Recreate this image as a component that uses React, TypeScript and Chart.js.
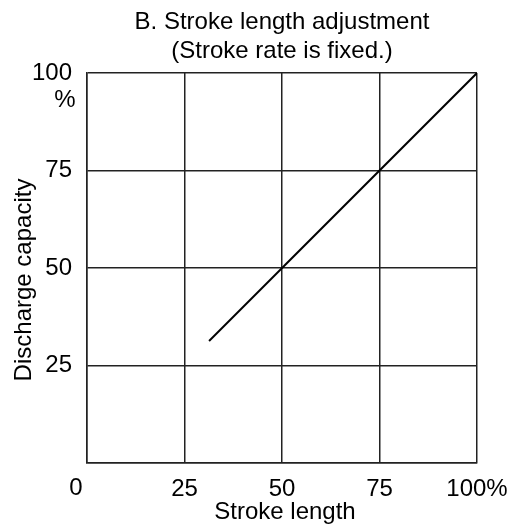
import React, { useEffect, useRef } from "react";
import { Chart, registerables } from "chart.js";

Chart.register(...registerables);

const titleLines = ["B. Stroke length adjustment", "(Stroke rate is fixed.)"];
const xAxisTitle = "Stroke length";
const yAxisTitle = "Discharge capacity";
const tickValues = [0, 25, 50, 75, 100];
const xTickLabels = ["", "25", "50", "75", "100%"];
const yTickLabels = ["", "25", "50", "75", "100"];
const originLabel = "0";
const yUnitLabel = "%";
const strokeLength = [31.3, 100];
const dischargeCapacity = [31.3, 100];

const FONT = '"Liberation Sans", Arial, sans-serif';
const FS = 24;

const textPlugin = {
  id: "extraText",
  afterDraw(chart: any) {
    const ctx = chart.ctx;
    const xs = chart.scales.x;
    const ys = chart.scales.y;
    const area = chart.chartArea;
    const cx = (area.left + area.right) / 2;
    ctx.save();
    ctx.fillStyle = "#000";
    ctx.font = `${FS}px ${FONT}`;
    ctx.textAlign = "center";
    ctx.textBaseline = "middle";
    // title
    ctx.fillText(titleLines[0], cx, 22);
    ctx.fillText(titleLines[1], cx, 51);
    // origin "0"
    ctx.fillText(originLabel, xs.getPixelForValue(0) - 11, 488);
    // unit "%"
    ctx.fillText(yUnitLabel, area.left - 22, ys.getPixelForValue(100) + 27);
    // x title
    ctx.fillText(xAxisTitle, cx + 3, 512);
    // y title
    ctx.translate(24, (area.top + area.bottom) / 2 + 12);
    ctx.rotate(-Math.PI / 2);
    ctx.fillText(yAxisTitle, 0, 0);
    ctx.restore();
  },
};

export default function App() {
  const ref = useRef<HTMLCanvasElement | null>(null);
  useEffect(() => {
    if (!ref.current) return;
    const points = strokeLength.map((x, i) => ({ x, y: dischargeCapacity[i] }));
    const chart = new Chart(ref.current, {
      type: "scatter",
      data: {
        datasets: [
          {
            data: points,
            showLine: true,
            borderColor: "#000",
            borderWidth: 2,
            pointRadius: 0,
            fill: false,
          },
        ],
      },
      plugins: [textPlugin],
      options: {
        animation: false,
        responsive: false,
        maintainAspectRatio: false,
        layout: { padding: { left: 0, right: 39, top: 73, bottom: 0 } },
        plugins: {
          legend: { display: false },
          tooltip: { enabled: false },
          title: { display: false },
        },
        scales: {
          x: {
            type: "linear",
            min: 0,
            max: 100,
            afterBuildTicks: (s: any) => {
              s.ticks = tickValues.map((v) => ({ value: v }));
            },
            afterFit: (s: any) => {
              s.height = 64;
              s.paddingRight = 0;
              s.paddingLeft = 0;
            },
            ticks: {
              color: "#000",
              font: { family: FONT, size: FS },
              padding: 12,
              maxRotation: 0,
              autoSkip: false,
              callback: (v: any) => xTickLabels[tickValues.indexOf(Number(v))] ?? "",
            },
            grid: { color: "#222", lineWidth: 1.5, drawTicks: false },
            border: { color: "#222", width: 1.5 },
          },
          y: {
            type: "linear",
            min: 0,
            max: 100,
            afterBuildTicks: (s: any) => {
              s.ticks = tickValues.map((v) => ({ value: v }));
            },
            afterFit: (s: any) => {
              s.width = 87;
              s.paddingTop = 0;
              s.paddingBottom = 0;
            },
            ticks: {
              color: "#000",
              font: { family: FONT, size: FS },
              padding: 15,
              autoSkip: false,
              callback: (v: any) => yTickLabels[tickValues.indexOf(Number(v))] ?? "",
            },
            grid: { color: "#222", lineWidth: 1.5, drawTicks: false },
            border: { color: "#222", width: 1.5 },
          },
        },
      },
    } as any);
    return () => chart.destroy();
  }, []);
  return (
    <div style={{ position: "absolute", left: 0, top: 0, width: 516, height: 527, background: "#fff" }}>
      <canvas ref={ref} width={516} height={527} style={{ width: 516, height: 527 }} />
    </div>
  );
}
